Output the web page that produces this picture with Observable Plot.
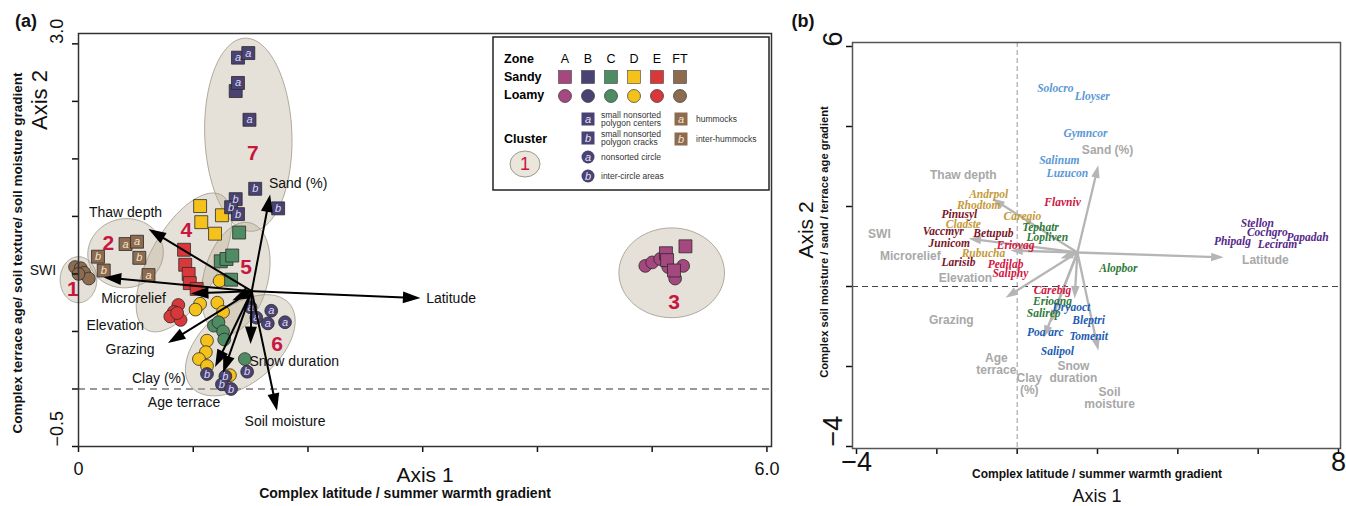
<!DOCTYPE html>
<html><head><meta charset="utf-8">
<script src="https://cdn.jsdelivr.net/npm/d3@7"></script>
<script src="https://cdn.jsdelivr.net/npm/@observablehq/plot@0.6"></script>
<style>
body{margin:0;background:#fff;font-family:"Liberation Sans",Arial,sans-serif;}
#wrap{position:relative;width:1346px;height:506px;overflow:hidden;background:#fff;}
.abs{position:absolute;white-space:nowrap;transform:translate(-50%,-50%);line-height:1;color:#111;}
.rot{transform:translate(-50%,-50%) rotate(-90deg);}
</style></head><body>
<div id="wrap">
 <div id="pa" style="position:absolute;left:0;top:0"></div>
 <div id="pb" style="position:absolute;left:790px;top:0"></div>
 <div class="abs" style="left:26px;top:21px;font-weight:bold;font-size:18px">(a)</div>
 <div class="abs rot" style="left:40px;top:100px;font-size:22px">Axis 2</div>
 <div class="abs rot" style="left:18px;top:253px;font-weight:bold;font-size:13.5px">Complex terrace age/ soil texture/ soil moisture gradient</div>
 <div class="abs" style="left:425px;top:474px;font-size:21px">Axis 1</div>
 <div class="abs" style="left:405px;top:493px;font-weight:bold;font-size:14px">Complex latitude / summer warmth gradient</div>
 <div class="abs" style="left:803px;top:21px;font-weight:bold;font-size:18px">(b)</div>
 <div class="abs rot" style="left:805px;top:230px;font-size:21px">Axis 2</div>
 <div class="abs rot" style="left:825px;top:242px;font-weight:bold;font-size:11.2px">Complex soil moisture / sand / terrace age gradient</div>
 <div class="abs" style="left:1097px;top:474px;font-weight:bold;font-size:12px">Complex latitude / summer warmth gradient</div>
 <div class="abs" style="left:1097px;top:496px;font-size:18px">Axis 1</div>
</div>
<script>
const FONT = '"Liberation Sans", Arial, sans-serif';
const SERIF = '"Liberation Serif", "Times New Roman", serif';

// ---------- panel (a) data ----------
const zones = ["A","B","C","D","E","FT"];
const zoneColors = ["#a4487f","#4a4272","#4f8c63","#f4c21b","#d8383a","#8d6b4f"];

// [axis1, axis2, microsite letter]
const loamyFT = [[-0.03,1.06],[0.02,1.05],[0.05,1.01],[0.09,0.96],[0.00,1.00]];
const loamyE  = [[0.87,0.73],[0.83,0.67],[0.80,0.63],[0.89,0.60],[0.86,0.66]];
const loamyD  = [[1.23,0.94],[1.06,0.74],[1.02,0.69],[1.21,0.75],[1.26,0.67],[1.12,0.42],[1.11,0.32],[1.05,0.26],[1.12,0.20],[1.32,0.12]];
const loamyC  = [[1.18,0.55],[1.22,0.58],[1.26,0.50],[1.27,0.43],[1.45,0.26]];
const loamyA  = [[4.94,1.07],[5.00,1.10],[5.07,1.13],[5.27,1.07],[5.20,0.96],[5.14,1.06]];
const loamyB  = [[1.50,0.71,"a"],[1.55,0.62,"a"],[1.68,0.68,"a"],[1.65,0.57,"a"],[1.80,0.58,"a"],[1.12,0.13,"b"],[1.28,0.11,"b"],[1.25,0.04,"b"],[1.33,0.00,"b"],[1.47,0.15,"b"]];
const sandyFT = [[0.41,1.26,"a"],[0.51,1.28,"a"],[0.17,1.15,"b"],[0.53,1.14,"b"],[0.22,1.03,"b"],[0.61,0.99,"a"]];
const sandyE  = [[0.92,1.21],[0.93,1.08],[0.96,1.00],[0.97,0.92],[1.03,0.87]];
const sandyD  = [[1.06,1.59],[1.07,1.45],[1.19,1.35],[1.25,1.51]];
const sandyC  = [[1.40,1.36],[1.24,1.11],[1.29,1.13],[1.34,1.16],[1.33,0.95]];
const sandyB  = [[1.37,2.59,""],[1.39,2.66,"a"],[1.39,2.88,"a"],[1.48,2.92,"a"],[1.49,2.34,"a"],[1.54,1.74,"b"],[1.74,1.57,"b"],[1.37,1.65,"b"],[1.33,1.58,"b"],[1.39,1.52,"b"]];
const sandyA  = [[5.29,1.24],[5.12,1.18],[5.13,1.12],[5.19,1.03]];

const clusterIds    = ["7","4","5","6","2","1","3"];
const clusterLabelX = [1.52,0.94,1.46,1.73,0.26,-0.05,5.19];
const clusterLabelY = [2.05,1.38,1.06,0.39,1.27,0.87,0.75];
const ellCx    = [1.48,0.92,1.37,1.41,0.41,0.00,5.17];
const ellCy    = [2.21,1.10,0.96,0.38,1.18,0.95,1.01];
const ellMajor = [0.84,0.67,0.50,0.56,0.33,0.20,0.46];
const ellMinor = [0.38,0.30,0.28,0.33,0.30,0.16,0.39];
const ellAngle = [92,61,75,40,10,90,0];

const envVars = ["Latitude","Sand (%)","Thaw depth","SWI","Microrelief","Elevation","Grazing","Clay (%)","Age terrace","Snow duration","Soil moisture"];
const originA = [1.51, 0.85];
const tipXA = [2.98,1.67,0.61,0.22,0.98,1.34,0.78,1.19,1.26,1.50,1.73];
const tipYA = [0.79,1.69,1.39,0.97,0.83,0.77,0.40,0.19,0.14,0.39,-0.19];
const labXA = [3.03,1.66,0.41,-0.31,0.48,0.32,0.45,0.70,0.92,1.49,1.80];
const labYA = [0.79,1.79,1.53,1.03,0.79,0.55,0.34,0.09,-0.12,0.24,-0.28];
const labAnchorA = ["start","start","middle","middle","middle","middle","middle","middle","middle","start","middle"];

const xTicksA = [0,1,2,3,4,5,6];
const xTickTextA = ["0","","","","","","6.0"];
const yTicksA = [-0.5,0,0.5,1,1.5,2,2.5,3];
const yTickTextA = ["\u22120.5","","","","","","","3.0"];

// ---------- panel (b) data ----------
const originB = [1.50, 0.85];
const tipXB = [5.14,2.02,-0.62,-1.21,-0.17,1.08,-0.29,0.83,0.66,1.43,2.02];
const tipYB = [0.73,3.03,2.20,1.20,0.90,0.70,-0.28,-0.90,-1.28,-0.30,-1.60];
const envTextB = ["Latitude","Sand (%)","Thaw depth","SWI","Microrelief","Elevation","Grazing","Clay\n(%)","Age\nterrace","Snow\nduration","Soil\nmoisture"];
const labXB = [6.18,2.25,-1.34,-3.43,-2.66,-1.29,-1.64,0.30,-0.52,1.40,2.30];
const labYB = [0.65,3.40,2.78,1.30,0.75,0.20,-0.85,-2.45,-1.95,-2.15,-2.78];

const speciesGroups = ["g1","g2","g3","g4","g5","g6","g7"];
const groupColors = ["#5b98d6","#d3153f","#c49a3a","#7a1628","#2e7a38","#1d5cb2","#56298a"];
const speciesNames = ["Solocro","Lloyser","Gymncor","Salinum","Luzucon",
  "Flavniv","Eriovag","Pedilab","Saliphy","Carebig",
  "Andrpol","Rhodtom","Cladste","Caregio","Rubucha",
  "Pinusyl","Vaccmyr","Betupub","Junicom","Larisib",
  "Tephatr","Lopliven","Alopbor","Erioang","Salirep",
  "Dryaoct","Bleptri","Poa arc","Tomenit","Salipol",
  "Stellon","Cochgro","Papadah","Phipalg","Leciram"];
const speciesX = [0.95,1.87,1.70,1.05,1.25, 1.13,-0.04,-0.29,-0.17,0.88, -0.71,-0.96,-1.34,0.13,-0.84, -1.44,-1.84,-0.59,-1.69,-1.46, 0.58,0.75,2.52,0.88,0.66, 1.35,1.78,0.70,1.78,1.00, 5.98,6.23,7.23,5.36,6.48];
const speciesY = [4.95,4.75,3.83,3.15,2.83, 2.10,1.03,0.55,0.33,-0.09, 2.30,2.03,1.55,1.75,0.83, 1.80,1.37,1.33,1.09,0.60, 1.48,1.23,0.45,-0.37,-0.68, -0.53,-0.85,-1.15,-1.25,-1.63, 1.58,1.35,1.23,1.13,1.05];
const speciesGroupOf = [0,0,0,0,0, 1,1,1,1,1, 2,2,2,2,2, 3,3,3,3,3, 4,4,4,4,4, 5,5,5,5,5, 6,6,6,6,6];

const xTicksB = [-4,-2,0,2,4,6,8];
const xTickTextB = ["\u22124","","","","","","8"];
const yTicksB = [-4,-2,0,2,4,6];
const yTickTextB = ["\u22124","","","","","6"];

// ---------- build tables ----------
function rows(arr, zone) { return arr.map(d => ({x: d[0], y: d[1], lab: d[2] || "", zone})); }
const loamy = [].concat(rows(loamyFT,"FT"),rows(loamyE,"E"),rows(loamyD,"D"),rows(loamyC,"C"),rows(loamyA,"A"),rows(loamyB,"B"));
const sandy = [].concat(rows(sandyFT,"FT"),rows(sandyE,"E"),rows(sandyD,"D"),rows(sandyC,"C"),rows(sandyB,"B"),rows(sandyA,"A"));

const ellPts = [];
clusterIds.forEach((id, i) => {
  const a = ellAngle[i]*Math.PI/180, c = Math.cos(a), s = Math.sin(a);
  for (let k = 0; k < 90; k++) {
    const t = k/90*2*Math.PI, u = ellMajor[i]*Math.cos(t), w = ellMinor[i]*Math.sin(t);
    ellPts.push({id, x: ellCx[i] + u*c - w*s, y: ellCy[i] + u*s + w*c});
  }
});
const clusters = clusterIds.map((id,i) => ({id, x: clusterLabelX[i], y: clusterLabelY[i]}));

function arrows(tx, ty, o, shorten) {
  return envVars.map((v, i) => {
    const dx = tx[i]-o[0], dy = ty[i]-o[1], L = Math.hypot(dx, dy);
    return {v, x1: o[0], y1: o[1], x2: tx[i], y2: ty[i],
      sx: tx[i] - dx/L*shorten, sy: ty[i] - dy/L*shorten,
      ang: -Math.atan2(dy, dx)*180/Math.PI};
  });
}
const arrowsA = arrows(tipXA, tipYA, originA, 0.09);
const arrowsB = arrows(tipXB, tipYB, originB, 0.2);
const labelsA = envVars.map((v,i) => ({v, x: labXA[i], y: labYA[i], anchor: labAnchorA[i]}));
const labelsB = envTextB.map((v,i) => ({v, x: labXB[i], y: labYB[i]}));
const species = speciesNames.map((n,i) => ({n, x: speciesX[i], y: speciesY[i], g: speciesGroups[speciesGroupOf[i]]}));

const head = {draw(ctx, size) { const r = Math.sqrt(size/Math.PI);
  ctx.moveTo(0,0); ctx.lineTo(-2.5*r, -0.85*r); ctx.lineTo(-2.5*r, 0.85*r); ctx.closePath(); }};

const tickLab = (ticks, texts) => ticks.map((v,i) => ({v, t: texts[i]})).filter(d => d.t);

// ---------- panel (a) ----------
const plotA = Plot.plot({
  width: 790, height: 506, marginLeft: 78, marginRight: 19, marginTop: 33, marginBottom: 60,
  x: {domain: [0, 6.04]}, y: {domain: [-0.5, 3.09]},
  color: {domain: zones, range: zoneColors},
  style: {fontFamily: FONT, fontSize: "12px", background: "transparent", overflow: "visible", color: "#111"},
  marks: [
    Plot.ruleY([0], {stroke: "#777", strokeWidth: 1.3, strokeDasharray: "7,5"}),
    Plot.line(ellPts, {x: "x", y: "y", z: "id", curve: "linear-closed", fill: "#b9ad93", fillOpacity: 0.36, stroke: "#9d9888", strokeWidth: 1, strokeOpacity: 0.8}),
    Plot.text(clusters, {x: "x", y: "y", text: "id", fill: "#c8163e", fontSize: 21, fontWeight: "bold"}),
    Plot.dot(loamy, {x: "x", y: "y", fill: "zone", r: 6.4, stroke: "#2b2b2b", strokeWidth: 0.8}),
    Plot.dot(sandy, {x: "x", y: "y", fill: "zone", symbol: "square", r: 7.3, stroke: "#2b2b2b", strokeWidth: 0.8}),
    Plot.text(loamy.concat(sandy).filter(d => d.lab), {x: "x", y: "y", text: "lab", fill: d => d.zone === "FT" ? "#f3e4cf" : "#dcdcf2", fontStyle: "italic", fontSize: 11}),
    Plot.link(arrowsA, {x1: "x1", y1: "y1", x2: "sx", y2: "sy", stroke: "#000", strokeWidth: 2}),
    Plot.dot(arrowsA, {x: "x2", y: "y2", symbol: head, r: 7, rotate: "ang", fill: "#000", stroke: "none"}),
    Plot.text(labelsA.filter(d => d.anchor === "middle"), {x: "x", y: "y", text: "v", textAnchor: "middle", fontSize: 14, fill: "#111"}),
    Plot.text(labelsA.filter(d => d.anchor === "start"), {x: "x", y: "y", text: "v", textAnchor: "start", fontSize: 14, fill: "#111"}),
    Plot.axisX({ticks: xTicksA, tickSize: 6, tickFormat: () => "", label: null, strokeWidth: 1.5}),
    Plot.axisY({ticks: yTicksA, tickSize: 6, tickFormat: () => "", label: null, strokeWidth: 1.5}),
    Plot.text(tickLab(xTicksA, xTickTextA), {x: "v", text: "t", frameAnchor: "bottom", dy: 28, fontSize: 18, fill: "#111"}),
    Plot.text(tickLab(yTicksA, yTickTextA), {y: "v", text: "t", frameAnchor: "left", dx: -21, rotate: -90, fontSize: 18, fill: "#111"}),
    Plot.frame({stroke: "#333", strokeWidth: 1.5})
  ]
});
document.getElementById("pa").appendChild(plotA);

// ---------- panel (b) ----------
const plotB = Plot.plot({
  width: 556, height: 506, marginLeft: 62, marginRight: 6, marginTop: 42, marginBottom: 58,
  x: {domain: [-4.1, 8.05]}, y: {domain: [-4.05, 6.1]},
  color: {domain: speciesGroups, range: groupColors},
  style: {fontFamily: FONT, fontSize: "12px", background: "transparent", overflow: "visible", color: "#111"},
  marks: [
    Plot.ruleX([0], {stroke: "#999", strokeWidth: 1, strokeDasharray: "5,3"}),
    Plot.ruleY([0], {stroke: "#444", strokeWidth: 1.2, strokeDasharray: "6,4"}),
    Plot.link(arrowsB, {x1: "x1", y1: "y1", x2: "sx", y2: "sy", stroke: "#b5b5b5", strokeWidth: 2.3}),
    Plot.dot(arrowsB, {x: "x2", y: "y2", symbol: head, r: 5, rotate: "ang", fill: "#b5b5b5", stroke: "none"}),
    Plot.text(labelsB, {x: "x", y: "y", text: "v", fill: "#a8a8a8", fontWeight: "bold", fontSize: 12}),
    Plot.text(species, {x: "x", y: "y", text: "n", fill: "g", fontFamily: SERIF, fontStyle: "italic", fontWeight: "bold", fontSize: 11.5}),
    Plot.axisX({ticks: xTicksB, tickSize: 6, tickFormat: () => "", label: null, strokeWidth: 1.5}),
    Plot.axisY({ticks: yTicksB, tickSize: 6, tickFormat: () => "", label: null, strokeWidth: 1.5}),
    Plot.text(tickLab(xTicksB, xTickTextB), {x: "v", text: "t", frameAnchor: "bottom", dy: 22, fontSize: 27, fill: "#111"}),
    Plot.text(tickLab(yTicksB, yTickTextB), {y: "v", text: "t", frameAnchor: "left", dx: -19, rotate: -90, fontSize: 27, fill: "#111"}),
    Plot.frame({stroke: "#555", strokeWidth: 1.5})
  ]
});
document.getElementById("pb").appendChild(plotB);

// ---------- legend for panel (a) ----------
const legendSoils = ["Sandy","Loamy"];
const micrositesB = [["a","square",["small nonsorted","polygon centers"]],["b","square",["small nonsorted","polygon cracks"]],["a","circle",["nonsorted circle"]],["b","circle",["inter-circle areas"]]];
const micrositesFT = [["a","hummocks"],["b","inter-hummocks"]];
const leg = d3.select("#wrap").append("svg").attr("width", 280).attr("height", 157)
  .style("position","absolute").style("left","492px").style("top","36px")
  .style("font-family", FONT);
leg.append("rect").attr("x",1).attr("y",1).attr("width",276).attr("height",153).attr("fill","#fff").attr("stroke","#222").attr("stroke-width",1.5);
const zx = i => 73 + i*23;
leg.append("text").attr("x",12).attr("y",23).attr("dy","0.35em").attr("font-weight","bold").attr("font-size",12.5).text("Zone");
zones.forEach((z,i) => leg.append("text").attr("x",zx(i)).attr("y",23).attr("dy","0.35em").attr("text-anchor","middle").attr("font-size",12.5).text(z));
legendSoils.forEach((s,j) => {
  const y = 41 + j*18;
  leg.append("text").attr("x",12).attr("y",y).attr("dy","0.35em").attr("font-weight","bold").attr("font-size",12.5).text(s);
  zones.forEach((z,i) => {
    if (j === 0) leg.append("rect").attr("x",zx(i)-6.5).attr("y",y-6.5).attr("width",13).attr("height",13).attr("fill",zoneColors[i]).attr("stroke","#444").attr("stroke-width",0.6);
    else leg.append("circle").attr("cx",zx(i)).attr("cy",y+1).attr("r",6.5).attr("fill",zoneColors[i]).attr("stroke","#333").attr("stroke-width",0.7);
  });
});
micrositesB.forEach((m,k) => {
  const y = 83 + k*19;
  if (m[1] === "square") leg.append("rect").attr("x",89.5).attr("y",y-6.5).attr("width",13).attr("height",13).attr("fill",zoneColors[1]);
  else leg.append("circle").attr("cx",96).attr("cy",y).attr("r",6.5).attr("fill",zoneColors[1]);
  leg.append("text").attr("x",96).attr("y",y).attr("dy","0.35em").attr("text-anchor","middle").attr("font-style","italic").attr("font-size",11).attr("fill","#e4e4f6").text(m[0]);
  m[2].forEach((t,l) => leg.append("text").attr("x",109).attr("y",y + (m[2].length === 2 ? (l === 0 ? -4 : 4.5) : 0)).attr("dy","0.35em").attr("font-size",8.5).attr("fill","#333").text(t));
});
micrositesFT.forEach((m,k) => {
  const y = 83 + k*20;
  leg.append("rect").attr("x",182.5).attr("y",y-6.5).attr("width",13).attr("height",13).attr("fill",zoneColors[5]);
  leg.append("text").attr("x",189).attr("y",y).attr("dy","0.35em").attr("text-anchor","middle").attr("font-style","italic").attr("font-size",11).attr("fill","#f6e8d4").text(m[0]);
  leg.append("text").attr("x",204).attr("y",y).attr("dy","0.35em").attr("font-size",8.5).attr("fill","#333").text(m[1]);
});
leg.append("text").attr("x",12).attr("y",103).attr("dy","0.35em").attr("font-weight","bold").attr("font-size",12.5).text("Cluster");
leg.append("ellipse").attr("cx",33).attr("cy",128).attr("rx",15).attr("ry",13).attr("fill","#ebe6dc").attr("stroke","#9d9888");
leg.append("text").attr("x",33).attr("y",128).attr("dy","0.36em").attr("text-anchor","middle").attr("font-size",18).attr("fill","#c8163e").text("1");
</script>
</body></html>
